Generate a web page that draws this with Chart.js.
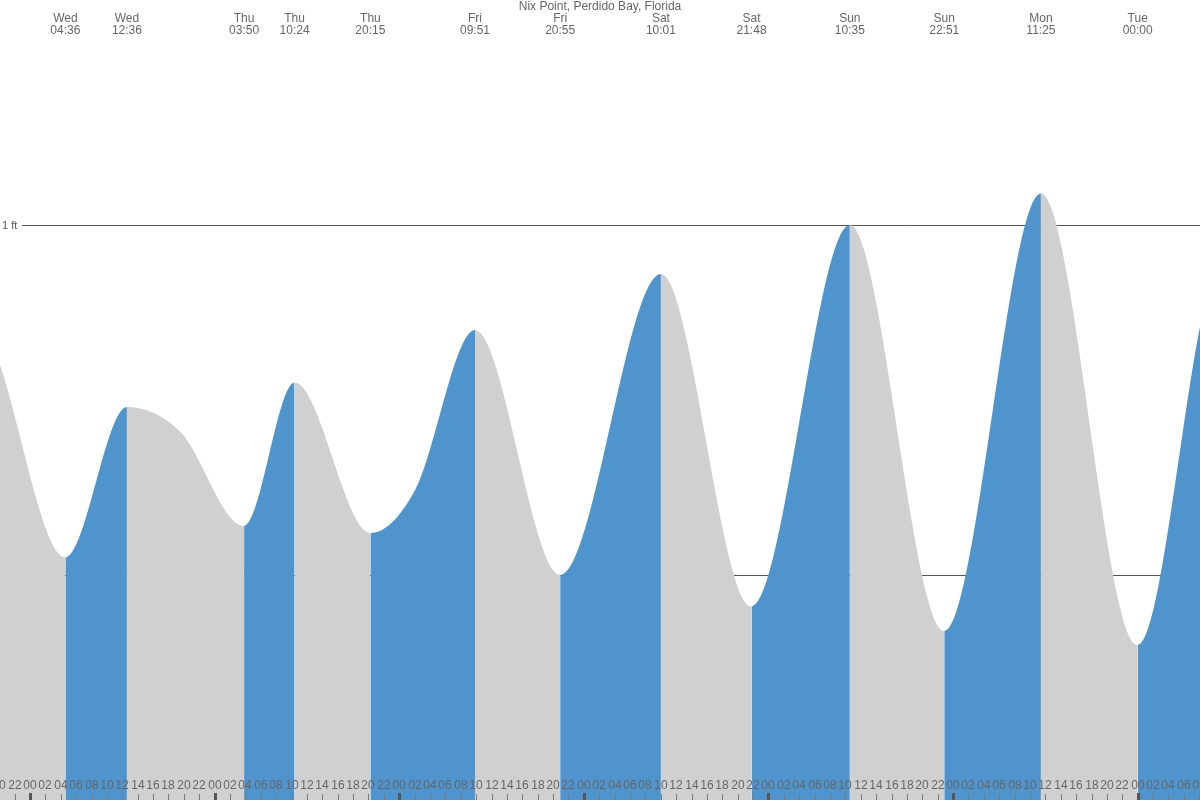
<!DOCTYPE html>
<html><head><meta charset="utf-8">
<script src="https://cdn.jsdelivr.net/npm/chart.js@4"></script>
<style>body{margin:0;background:#fff}canvas{display:block}</style>
</head><body><canvas id="c" width="1200" height="800"></canvas>
<script>
// hours from Wed 00:00, tide height in ft
const tideHours = [-3.9, 4.6, 12.6, 19.5, 27.83, 34.4, 44.25, 50.0, 57.85, 68.92, 82.02, 93.8, 106.58, 118.85, 131.42, 144.0, 152.1];
const tideFeet  = [0.60, 0.05, 0.48, 0.41, 0.14, 0.55, 0.12, 0.24, 0.70, 0.00, 0.86, -0.09, 1.00, -0.16, 1.09, -0.20, 0.71];
const eventDays  = ["Wed","Wed","Thu","Thu","Thu","Fri","Fri","Sat","Sat","Sun","Sun","Mon","Tue"];
const eventTimes = ["04:36","12:36","03:50","10:24","20:15","09:51","20:55","10:01","21:48","10:35","22:51","11:25","00:00"];
const eventHours = [4.6,12.6,27.83,34.4,44.25,57.85,68.92,82.02,93.8,106.58,118.85,131.42,144.0];
const gridFeet = [0, 1];
const gridLabels = ["0 ft","1 ft"];
const title = "Nix Point, Perdido Bay, Florida";

const BLUE = '#4f94cd', GRAY = '#d0d0d0';
const data = tideHours.map((h,i)=>({x:h,y:tideFeet[i]}));

const overlay = {
  id:'overlay',
  beforeDatasetsDraw(ch){
    const c=ch.ctx, x=ch.scales.x, y=ch.scales.y;
    c.save();
    c.strokeStyle='#555'; c.lineWidth=1;
    c.font='11px "Liberation Sans", Arial, sans-serif'; c.fillStyle='#555';
    c.textBaseline='middle'; c.textAlign='left';
    gridFeet.forEach((v,i)=>{
      const py=Math.round(y.getPixelForValue(v))+0.5;
      c.beginPath(); c.moveTo(22,py); c.lineTo(1200,py); c.stroke();
      c.fillText(gridLabels[i],2,py);
    });
    c.restore();
  },
  afterDatasetsDraw(ch){
    const c=ch.ctx, x=ch.scales.x;
    c.save();
    c.fillStyle='#666'; c.textAlign='center'; c.textBaseline='middle';
    c.font='12px "Liberation Sans", Arial, sans-serif';
    c.fillText(title,600,7);
    eventHours.forEach((h,i)=>{
      const px=x.getPixelForValue(h);
      c.fillText(eventDays[i],px,19);
      c.fillText(eventTimes[i],px,31);
    });
    for(let h=-4; h<=154; h+=2){
      const px=Math.round(x.getPixelForValue(h));
      const hr=((h%24)+24)%24;
      c.fillStyle='#666';
      c.fillText(String(hr).padStart(2,'0'),px,786);
      if(hr===0){ c.fillStyle='#555'; c.fillRect(px-1,793,3,7); }
      else { c.fillStyle='#777'; c.fillRect(px,794,1,6); }
    }
    c.restore();
  }
};

new Chart(document.getElementById('c'),{
  type:'line',
  data:{datasets:[{
    data, parsing:false, fill:'start', borderWidth:0, pointRadius:0,
    cubicInterpolationMode:'monotone', backgroundColor:GRAY,
    segment:{backgroundColor:ctx=>ctx.p1.parsed.y>ctx.p0.parsed.y?BLUE:GRAY}
  }]},
  options:{
    responsive:false, animation:false, layout:{padding:0},
    plugins:{legend:{display:false},tooltip:{enabled:false}},
    scales:{
      x:{type:'linear',min:-3.9,max:152.1,display:false},
      y:{min:-0.643,max:1.643,display:false}
    }
  },
  plugins:[overlay]
});
</script></body></html>
